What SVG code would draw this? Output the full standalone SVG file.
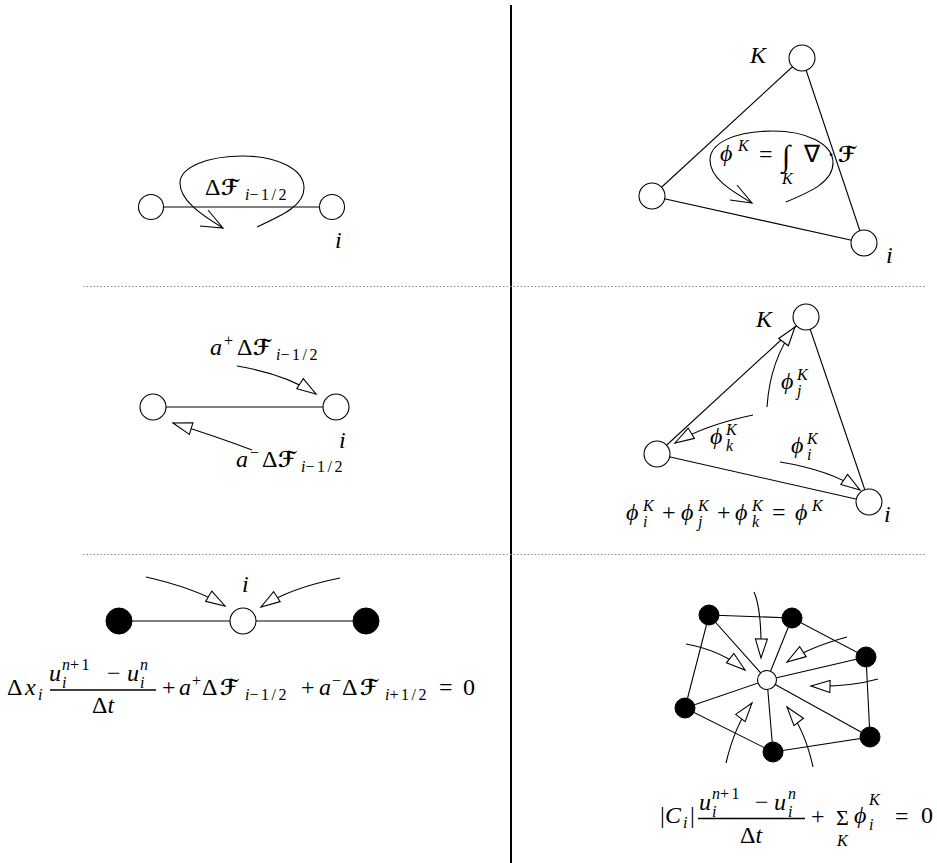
<svg xmlns="http://www.w3.org/2000/svg" width="937" height="863" viewBox="0 0 937 863">
<style>
.ln{stroke:#000;stroke-width:1.1;fill:none}
.nd{fill:#fff;stroke:#000;stroke-width:1.1}
.bk{fill:#000;stroke:#000;stroke-width:1}
.ar{stroke:#000;stroke-width:1.1;fill:none;marker-end:url(#tri)}
.dot{stroke:#888;stroke-width:1;stroke-dasharray:1.5 2;fill:none}
text{font-family:"Liberation Serif",serif;font-size:24px;font-style:italic;fill:#000}
.u{font-style:normal}
.s{font-size:16px}
.w{letter-spacing:2.5px}
.F{font-family:"DejaVu Serif","DejaVu Sans",serif;font-style:normal;font-weight:bold;font-size:22px}
.big{font-size:30px}
</style>
<defs>
<marker id="tri" markerUnits="userSpaceOnUse" markerWidth="24" markerHeight="16" refX="21" refY="8" orient="auto">
<path d="M2,2 L21,8 L2,14 Z" fill="#fff" stroke="#000" stroke-width="1.1"/>
</marker>
</defs>
<rect width="937" height="863" fill="#fff"/>

<g id="frame">
<line x1="511" y1="5" x2="511" y2="863" stroke="#000" stroke-width="2"/>
<line class="dot" x1="83" y1="286.5" x2="925" y2="286.5"/>
<line class="dot" x1="83" y1="554.5" x2="925" y2="554.5"/>
</g>

<g id="connectors">
<line class="ln" x1="151" y1="207" x2="332" y2="207"/>
<path class="ln" d="M257,227 C285,214 304,205 304,188 C304,168 275,156 243,156 C208,156 180,167 180,183 C180,200 200,214 223,228"/>
<path class="ln" d="M208,210 L223,228 L200,226"/>
<line class="ln" x1="802" y1="58" x2="652" y2="196"/>
<line class="ln" x1="652" y1="196" x2="864" y2="243"/>
<line class="ln" x1="802" y1="58" x2="864" y2="243"/>
<path class="ln" d="M786,202 C810,192 833,182 833,163 C833,143 805,131 773,131 C735,131 710,143 710,160 C710,178 730,190 752,203"/>
<path class="ln" d="M737,185 L752,203 L730,200"/>
<line class="ln" x1="153" y1="407" x2="336" y2="407"/>
<path class="ar" d="M237,366 Q285,374 316,394"/>
<path class="ar" d="M252,450 Q215,436 173,423"/>
<line class="ln" x1="806" y1="317" x2="657" y2="454"/>
<line class="ln" x1="657" y1="454" x2="869" y2="502"/>
<line class="ln" x1="806" y1="317" x2="869" y2="502"/>
<path class="ar" d="M767,407 Q770,360 795,327"/>
<path class="ar" d="M753,415 Q705,425 675,443"/>
<path class="ar" d="M780,462 Q830,470 860,490"/>
<line class="ln" x1="119" y1="621" x2="366" y2="621"/>
<path class="ar" d="M146,577 Q195,588 225,606"/>
<path class="ar" d="M340,578 Q290,588 261,607"/>
<path class="ln" d="M709,615 L792,618 L866,657 L870,737 L773,752 L685,708 Z"/>
<path class="ln" d="M767,680 L709,615 M767,680 L792,618 M767,680 L866,657 M767,680 L870,737 M767,680 L773,752 M767,680 L685,708"/>
<path class="ar" d="M754,592 Q762,610 761,658"/>
<path class="ar" d="M847,637 Q810,647 787,662"/>
<path class="ar" d="M878,679 Q850,687 811,686"/>
<path class="ar" d="M686,644 Q720,650 745,670"/>
<path class="ar" d="M726,763 Q735,725 752,703"/>
<path class="ar" d="M813,767 Q805,730 787,707"/>
</g>

<g id="n-tl-a"><circle class="nd" cx="151" cy="207" r="12.5"/></g>
<g id="n-tl-i"><circle class="nd" cx="332" cy="207" r="12.5"/></g>
<g id="n-tr-K"><circle class="nd" cx="802" cy="58" r="13"/></g>
<g id="n-tr-l"><circle class="nd" cx="652" cy="196" r="13"/></g>
<g id="n-tr-i"><circle class="nd" cx="864" cy="243" r="13"/></g>
<g id="n-ml-a"><circle class="nd" cx="153" cy="407" r="13"/></g>
<g id="n-ml-i"><circle class="nd" cx="336" cy="407" r="13"/></g>
<g id="n-mr-K"><circle class="nd" cx="806" cy="317" r="13"/></g>
<g id="n-mr-l"><circle class="nd" cx="657" cy="454" r="13"/></g>
<g id="n-mr-i"><circle class="nd" cx="869" cy="502" r="13"/></g>
<g id="n-bl-l"><circle class="bk" cx="119" cy="621" r="13"/></g>
<g id="n-bl-i"><circle class="nd" cx="243" cy="621" r="13"/></g>
<g id="n-bl-r"><circle class="bk" cx="366" cy="621" r="13"/></g>
<g id="n-br-c"><circle class="nd" cx="767" cy="680" r="9.5"/></g>
<g id="n-br-1"><circle class="bk" cx="709" cy="615" r="10"/></g>
<g id="n-br-2"><circle class="bk" cx="792" cy="618" r="10"/></g>
<g id="n-br-3"><circle class="bk" cx="866" cy="657" r="10"/></g>
<g id="n-br-4"><circle class="bk" cx="870" cy="737" r="10"/></g>
<g id="n-br-5"><circle class="bk" cx="773" cy="752" r="10"/></g>
<g id="n-br-6"><circle class="bk" cx="685" cy="708" r="10"/></g>

<g id="labels">
<text x="205" y="195"><tspan class="u">Δ</tspan><tspan class="F" x="221">ℱ</tspan><tspan class="s" x="245" y="200">i</tspan><tspan class="s u w">−1/2</tspan></text>
<text x="335" y="248">i</text>
<text x="750" y="63">K</text>
<text x="886" y="263">i</text>
<text x="720" y="161">ϕ<tspan class="s" x="738" y="151">K</tspan><tspan class="u" x="759" y="162">=</tspan><tspan class="u big" x="782" y="166">∫</tspan><tspan class="u" x="804" y="162">∇</tspan><tspan class="u" x="827">·</tspan><tspan class="F" x="838">ℱ</tspan></text>
<text class="s" x="782" y="184">K</text>
<text x="210" y="355">a<tspan class="s u" x="224" y="346">+</tspan><tspan class="u" x="237" y="355">Δ</tspan><tspan class="F" x="253">ℱ</tspan><tspan class="s" x="276" y="360">i</tspan><tspan class="s u w">−1/2</tspan></text>
<text x="236" y="467">a<tspan class="s u" x="250" y="458">−</tspan><tspan class="u" x="262" y="467">Δ</tspan><tspan class="F" x="278">ℱ</tspan><tspan class="s" x="301" y="472">i</tspan><tspan class="s u w">−1/2</tspan></text>
<text x="339" y="448">i</text>
<text x="756" y="327">K</text>
<text x="884" y="522">i</text>
<text x="781" y="389">ϕ<tspan class="s" x="797" y="380">K</tspan><tspan class="s" x="797" y="396">j</tspan></text>
<text x="710" y="444">ϕ<tspan class="s" x="726" y="435">K</tspan><tspan class="s" x="726" y="451">k</tspan></text>
<text x="791" y="453">ϕ<tspan class="s" x="807" y="444">K</tspan><tspan class="s" x="807" y="460">i</tspan></text>
<text x="626" y="520">ϕ<tspan class="s" x="643" y="511">K</tspan><tspan class="s" x="643" y="527">i</tspan><tspan class="u" x="662" y="520">+</tspan><tspan x="681">ϕ</tspan><tspan class="s" x="698" y="511">K</tspan><tspan class="s" x="698" y="527">j</tspan><tspan class="u" x="717" y="520">+</tspan><tspan x="735">ϕ</tspan><tspan class="s" x="752" y="511">K</tspan><tspan class="s" x="752" y="527">k</tspan><tspan class="u" x="772" y="520">=</tspan><tspan x="795">ϕ</tspan><tspan class="s" x="812" y="511">K</tspan></text>
<text x="242" y="592">i</text>
<text x="7" y="695"><tspan class="u">Δ</tspan><tspan x="25">x</tspan><tspan class="s" x="38" y="700">i</tspan></text>
<text x="49" y="681">u<tspan class="s" x="62" y="670">n</tspan><tspan class="s u w">+1</tspan><tspan class="s" x="62" y="688">i</tspan><tspan class="u" x="107" y="681">−</tspan><tspan x="127">u</tspan><tspan class="s" x="140" y="670">n</tspan><tspan class="s" x="140" y="688">i</tspan></text>
<line x1="50" y1="690" x2="156" y2="690" stroke="#000" stroke-width="1.3"/>
<text x="103" y="713" text-anchor="middle"><tspan class="u">Δ</tspan>t</text>
<text x="162" y="695"><tspan class="u">+</tspan><tspan x="179">a</tspan><tspan class="s u" x="192" y="686">+</tspan><tspan class="u" x="202" y="695">Δ</tspan><tspan class="F" x="220">ℱ</tspan><tspan class="s" x="245" y="700">i</tspan><tspan class="s u w">−1/2</tspan><tspan class="u" x="301" y="695">+</tspan><tspan x="319">a</tspan><tspan class="s u" x="332" y="686">−</tspan><tspan class="u" x="342" y="695">Δ</tspan><tspan class="F" x="360">ℱ</tspan><tspan class="s" x="385" y="700">i</tspan><tspan class="s u w">+1/2</tspan><tspan class="u" x="439" y="695">=</tspan><tspan class="u" x="463">0</tspan></text>
<text x="660" y="823"><tspan class="u">|</tspan><tspan x="665">C</tspan><tspan class="s" x="683" y="828">i</tspan><tspan class="u" x="690" y="823">|</tspan></text>
<text x="699" y="810">u<tspan class="s" x="712" y="799">n</tspan><tspan class="s u w">+1</tspan><tspan class="s" x="712" y="817">i</tspan><tspan class="u" x="755" y="810">−</tspan><tspan x="774">u</tspan><tspan class="s" x="788" y="799">n</tspan><tspan class="s" x="788" y="817">i</tspan></text>
<line x1="698" y1="818.5" x2="805" y2="818.5" stroke="#000" stroke-width="1.3"/>
<text x="751" y="843" text-anchor="middle"><tspan class="u">Δ</tspan>t</text>
<text class="u" x="811" y="824">+</text>
<text class="u" x="836" y="825" style="font-size:22px">Σ</text>
<text x="854" y="823">ϕ<tspan class="s" x="869" y="805">K</tspan><tspan class="s" x="869" y="830">i</tspan><tspan class="u" x="895" y="824">=</tspan><tspan class="u" x="921" y="823">0</tspan></text>
<text class="s" x="837" y="846">K</text>
</g>
</svg>
